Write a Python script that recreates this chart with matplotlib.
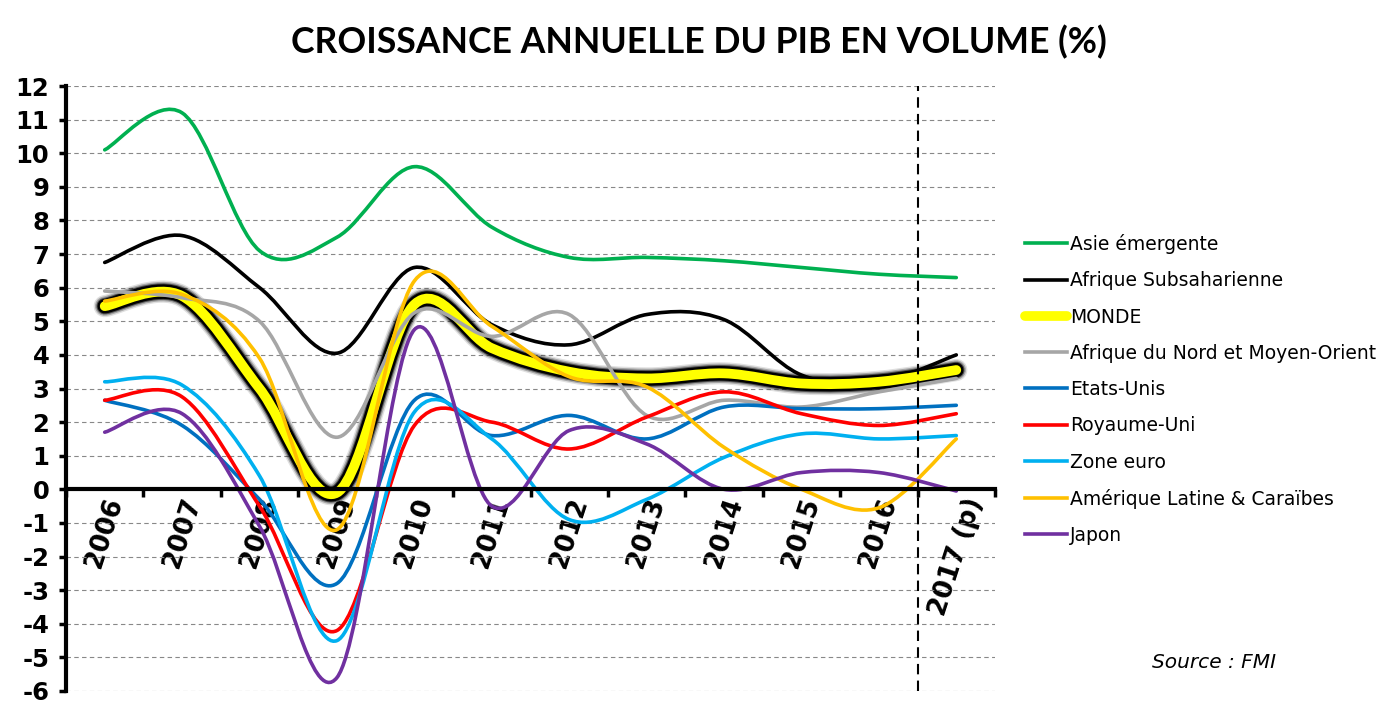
import numpy as np
import matplotlib
matplotlib.use('Agg')
import matplotlib.pyplot as plt
from matplotlib.path import Path
from matplotlib.patches import PathPatch
from matplotlib.lines import Line2D

years = ['2006', '2007', '2008', '2009', '2010', '2011', '2012', '2013', '2014', '2015', '2016', '2017 (p)']

asie = [10.1, 11.2, 7.1, 7.5, 9.6, 7.8, 6.9, 6.9, 6.8, 6.6, 6.4, 6.3]
afrique_ss = [6.75, 7.55, 6.0, 4.05, 6.6, 4.9, 4.3, 5.2, 5.05, 3.4, 3.2, 4.0]
monde = [5.45, 5.75, 3.0, -0.1, 5.5, 4.2, 3.5, 3.3, 3.45, 3.15, 3.2, 3.55]
mena = [5.9, 5.7, 5.0, 1.55, 5.25, 4.55, 5.2, 2.2, 2.65, 2.45, 2.9, 3.3]
etats_unis = [2.65, 1.9, -0.3, -2.8, 2.65, 1.6, 2.2, 1.5, 2.45, 2.4, 2.4, 2.5]
royaume_uni = [2.65, 2.75, -0.5, -4.2, 1.9, 2.0, 1.2, 2.15, 2.9, 2.25, 1.9, 2.25]
zone_euro = [3.2, 3.1, 0.4, -4.5, 2.3, 1.5, -0.9, -0.3, 0.95, 1.65, 1.5, 1.6]
am_latine = [5.6, 5.8, 3.9, -1.2, 6.2, 4.85, 3.35, 3.05, 1.25, 0.0, -0.55, 1.5]
japon = [1.7, 2.25, -1.1, -5.6, 4.75, -0.5, 1.75, 1.35, 0.0, 0.5, 0.5, -0.05]

series = [
    ('Asie émergente', asie, '#00B050'),
    ('Afrique Subsaharienne', afrique_ss, '#000000'),
    ('MONDE', monde, '#FFFF00'),
    ('Afrique du Nord et Moyen-Orient', mena, '#A6A6A6'),
    ('Etats-Unis', etats_unis, '#0070C0'),
    ('Royaume-Uni', royaume_uni, '#FF0000'),
    ('Zone euro', zone_euro, '#00B0F0'),
    ('Amérique Latine & Caraïbes', am_latine, '#FFC000'),
    ('Japon', japon, '#7030A0'),
]


def smooth_path(vals):
    # excel-like smoothed line: bezier segments through each point
    x = np.arange(len(vals)) + 0.5
    pts = np.column_stack([x, vals])
    p = np.vstack([pts[0], pts, pts[-1]])
    verts = [pts[0]]
    codes = [Path.MOVETO]
    for i in range(1, len(p) - 2):
        c1 = p[i] + (p[i + 1] - p[i - 1]) / 6
        c2 = p[i + 1] - (p[i + 2] - p[i]) / 6
        verts += [c1, c2, p[i + 1]]
        codes += [Path.CURVE4] * 3
    return Path(verts, codes)


fig = plt.figure(figsize=(13.97, 7.17), dpi=100)
ax = fig.add_axes([66 / 1397, 26 / 717, 929 / 1397, 605 / 717])
ax.set_xlim(0, 12)
ax.set_ylim(-6, 12)

handles = []
z = 3
for name, vals, col in series:
    path = smooth_path(vals)
    if name == 'MONDE':
        for lw, a in [(16, 0.12), (14, 0.25), (12, 0.5), (10.5, 1.0)]:
            ax.add_patch(PathPatch(path, fill=False, edgecolor='black', lw=lw, alpha=a,
                                   capstyle='round', joinstyle='round', zorder=z))
        ax.add_patch(PathPatch(path, fill=False, edgecolor=col, lw=7,
                               capstyle='round', joinstyle='round', zorder=z))
        handles.append(Line2D([], [], color=col, lw=7, solid_capstyle='round'))
    else:
        ax.add_patch(PathPatch(path, fill=False, edgecolor=col, lw=2.6,
                               capstyle='round', joinstyle='round', zorder=z))
        handles.append(Line2D([], [], color=col, lw=2.6))
    z += 0.1

ax.axvline(11, color='black', lw=1.5, ls=(0, (5, 3)), zorder=10)

ax.spines['top'].set_visible(False)
ax.spines['right'].set_visible(False)
ax.spines['bottom'].set_position(('data', 0))
ax.spines['bottom'].set_linewidth(3)
ax.spines['left'].set_linewidth(3)
ax.spines['bottom'].set_zorder(9)

ax.set_yticks(range(-6, 13))
ax.set_yticklabels([str(v) for v in range(-6, 13)], fontweight='bold', fontsize=17.5)
ax.tick_params(axis='y', length=5, width=2.5, pad=7)

ax.set_xticks(np.arange(12) + 0.5)
ax.set_xticklabels(years, fontweight='bold', fontsize=18.5, rotation=72, ha='center', va='top')
ax.set_xticks(np.arange(13), minor=True)
ax.tick_params(axis='x', which='major', length=0, pad=4)
ax.tick_params(axis='x', which='minor', length=6, width=2.5, direction='out')

ax.grid(axis='y', ls=(0, (4, 3)), color='#888888', lw=0.8)
ax.set_axisbelow(True)

fig.text(0.5, 1 - 42 / 717, 'CROISSANCE ANNUELLE DU PIB EN VOLUME (%)',
         ha='center', va='center', fontsize=25.7, fontweight='bold',
         family=['Lato', 'DejaVu Sans'])

fig.legend(handles, [s[0] for s in series], loc='upper left',
           bbox_to_anchor=(1025 / 1397, 1 - 234 / 717), frameon=False,
           fontsize=13.5, handlelength=2.24, handletextpad=0.15, labelspacing=0.92,
           borderpad=0, borderaxespad=0)

fig.text(1214 / 1397, 1 - 662 / 717, 'Source : FMI', ha='center', va='center',
         fontsize=14.5, style='italic')

fig.savefig('out.png', dpi=100)
